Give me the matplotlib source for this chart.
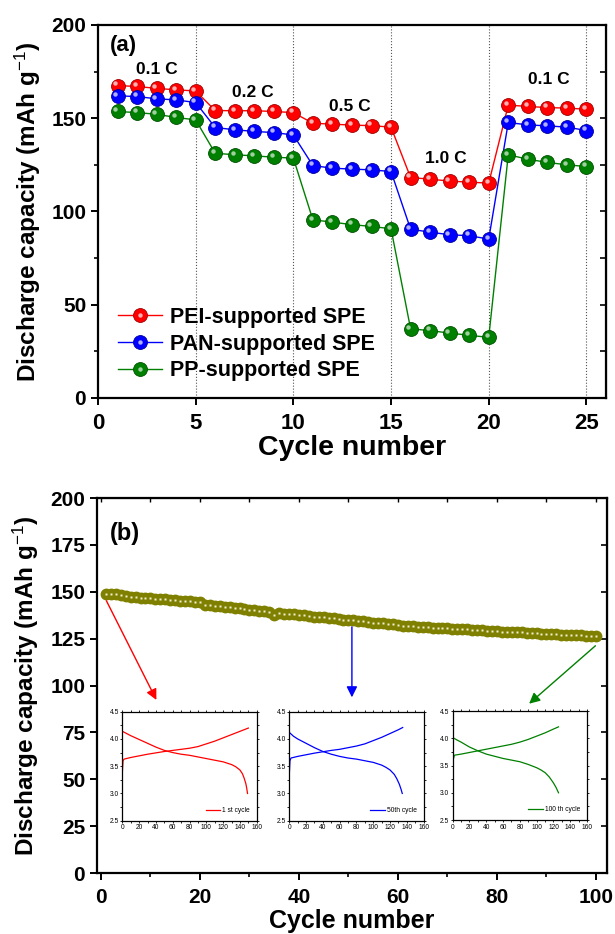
import numpy as np
import matplotlib
matplotlib.use("Agg")
import matplotlib.pyplot as plt
from matplotlib.transforms import ScaledTranslation
from matplotlib.ticker import MultipleLocator
from matplotlib.legend_handler import HandlerTuple

plt.rcParams['font.family'] = ['Liberation Sans', 'DejaVu Sans']
plt.rcParams['mathtext.fontset'] = 'custom'
plt.rcParams['mathtext.rm'] = 'Liberation Sans'
plt.rcParams['mathtext.default'] = 'rm'

# ---------------- data: panel (a) ----------------
cycles_a = list(range(1, 26))
pei = [167.5, 167.0, 166.0, 165.2, 164.6,
       154.1, 154.0, 154.0, 153.6, 153.0,
       147.3, 146.8, 146.3, 146.0, 145.2,
       118.2, 117.3, 116.3, 115.7, 115.2,
       157.0, 156.3, 155.7, 155.4, 154.8]
pan = [162.0, 161.6, 160.4, 159.8, 158.4,
       145.0, 143.8, 142.9, 142.3, 141.0,
       124.6, 123.2, 122.7, 122.3, 121.4,
       90.5, 88.9, 87.5, 87.0, 85.2,
       147.7, 146.4, 145.9, 145.2, 143.4]
pp = [153.6, 153.0, 152.1, 150.4, 149.1,
      131.2, 130.4, 129.8, 129.1, 128.6,
      95.5, 94.3, 92.9, 92.0, 90.7,
      37.1, 36.1, 34.8, 33.6, 32.5,
      130.4, 128.0, 126.3, 125.0, 124.1]
series_names = ['PEI-supported SPE', 'PAN-supported SPE', 'PP-supported SPE']
rate_boundaries = [5, 10, 15, 20, 25]
rate_labels = ['0.1 C', '0.2 C', '0.5 C', '1.0 C', '0.1 C']
rate_label_pos = [(3.0, 176), (7.9, 164), (12.9, 156.5), (17.8, 128.5), (23.1, 170.5)]

# ---------------- data: panel (b) ----------------
cycles_b = list(range(1, 101))
cap_b = [148.8, 148.8, 148.6, 148.3, 147.8, 147.4, 147.1, 146.9, 146.7, 146.5,
         146.3, 146.1, 145.9, 145.7, 145.5, 145.3, 145.1, 144.9, 144.7, 144.3,
         143.2, 142.8, 142.5, 142.2, 142.0, 141.7, 141.4, 141.1, 140.8, 140.5,
         140.2, 139.9, 139.6, 139.3, 137.6, 138.6, 138.4, 138.2, 138.0, 137.7,
         137.4, 137.1, 136.8, 136.6, 136.3, 136.0, 135.8, 135.5, 135.2, 135.0,
         134.7, 134.4, 134.2, 133.9, 133.6, 133.4, 133.1, 132.8, 132.6, 132.3,
         132.0, 131.8, 131.6, 131.4, 131.2, 131.1, 130.9, 130.8, 130.6, 130.5,
         130.3, 130.2, 130.0, 129.9, 129.7, 129.6, 129.4, 129.3, 129.1, 129.0,
         128.8, 128.7, 128.5, 128.4, 128.3, 128.1, 128.0, 127.9, 127.7, 127.6,
         127.5, 127.3, 127.2, 127.1, 127.0, 126.8, 126.7, 126.6, 126.5, 126.3]

# inset voltage profiles (capacity, voltage)
ch1_x = [0, 0.8, 2, 10, 20, 30, 40, 50, 60, 70, 80, 90, 100, 110, 120, 130, 140, 150]
ch1_y = [3.40, 3.60, 3.63, 3.66, 3.69, 3.72, 3.745, 3.77, 3.79, 3.81, 3.83, 3.86, 3.91, 3.96, 4.02, 4.08, 4.14, 4.20]
dc1_x = [0, 5, 10, 20, 30, 40, 50, 60, 70, 80, 90, 100, 110, 120, 130, 135, 140, 143, 145, 147, 148, 149]
dc1_y = [4.14, 4.10, 4.06, 3.99, 3.92, 3.85, 3.79, 3.75, 3.72, 3.70, 3.67, 3.64, 3.61, 3.58, 3.53, 3.49, 3.43, 3.36, 3.28, 3.18, 3.10, 3.00]
ch2_x = [0, 0.8, 2, 10, 20, 30, 40, 50, 60, 70, 80, 90, 100, 110, 120, 130, 135]
ch2_y = [3.34, 3.60, 3.65, 3.68, 3.71, 3.74, 3.765, 3.79, 3.81, 3.84, 3.87, 3.91, 3.97, 4.03, 4.10, 4.17, 4.21]
dc2_x = [0, 5, 10, 20, 30, 40, 50, 60, 70, 80, 90, 100, 110, 115, 120, 125, 128, 131, 133, 134.5]
dc2_y = [4.12, 4.05, 4.00, 3.92, 3.84, 3.77, 3.72, 3.68, 3.65, 3.63, 3.60, 3.57, 3.52, 3.48, 3.43, 3.35, 3.27, 3.17, 3.08, 3.00]
ch3_x = [0, 0.8, 2, 10, 20, 30, 40, 50, 60, 70, 80, 90, 100, 110, 120, 126]
ch3_y = [3.36, 3.62, 3.69, 3.71, 3.74, 3.77, 3.80, 3.83, 3.86, 3.89, 3.93, 3.98, 4.04, 4.10, 4.17, 4.21]
dc3_x = [0, 0.5, 5, 10, 20, 30, 40, 50, 60, 70, 80, 90, 100, 105, 110, 115, 120, 123, 126]
dc3_y = [4.08, 4.01, 3.97, 3.93, 3.84, 3.77, 3.71, 3.67, 3.63, 3.60, 3.57, 3.52, 3.46, 3.42, 3.37, 3.29, 3.18, 3.10, 3.00]
inset_labels = ['1 st cycle', '50th cycle', '100 th cycle']

# arrows (panel b data coords): start, tip
arrow_starts = [(1.1, 145.2), (50.7, 131.3), (99.9, 121.2)]
arrow_tips = [(11.2, 92.3), (50.7, 93.7), (86.5, 90.3)]

# ---------------- figure ----------------
fig = plt.figure(figsize=(6.15, 9.34), dpi=100)
ax1 = fig.add_axes([0.1593, 0.5739, 0.826, 0.3994])
ax2 = fig.add_axes([0.1577, 0.0653, 0.829, 0.4015])

for ax in (ax1, ax2):
    for s in ax.spines.values():
        s.set_linewidth(1.6)

# ---- panel (a)
colors = ['#ff0000', '#0000ff', '#008000']
edge = ['#a00000', '#0000a0', '#005000']
hl = ['#ffb0b0', '#b0b0ff', '#a0d0a0']
offset = ScaledTranslation(-1.6 / 72, 1.6 / 72, fig.dpi_scale_trans)
handles = []
for data, c, ec, h, name in zip([pei, pan, pp], colors, edge, hl, series_names):
    ln, = ax1.plot(cycles_a, data, '-', color=c, lw=1.0, marker='o', ms=10,
                   mfc=c, mec=ec, mew=0.6, zorder=3)
    hi, = ax1.plot(cycles_a, data, linestyle='none', marker='o', ms=3.2,
                   mfc=h, mec='none', zorder=4,
                   transform=ax1.transData + offset)
    hi2, = ax1.plot([], [], linestyle='none', marker='o', ms=3.2, mfc=h, mec='none')
    handles.append((ln, hi2))

for xb in rate_boundaries:
    ax1.axvline(xb, color='#555555', lw=0.8, ls=':', zorder=1)

ax1.set_xlim(0, 26)
ax1.set_ylim(0, 200)
ax1.xaxis.set_major_locator(MultipleLocator(5))
ax1.yaxis.set_major_locator(MultipleLocator(50))
ax1.yaxis.set_minor_locator(MultipleLocator(25))
ax1.tick_params(axis='both', which='major', direction='out', length=5, width=1.4,
                labelsize=15)
ax1.tick_params(axis='both', which='minor', direction='out', length=3, width=1.2)
ax1.tick_params(axis='x', labelsize=16, pad=6)
for t in ax1.get_xticklabels() + ax1.get_yticklabels():
    t.set_fontweight('bold')
sy = ax1.secondary_yaxis('right')
sy.yaxis.set_major_locator(MultipleLocator(25))
sy.tick_params(direction='in', length=4, width=1.2, labelright=False)

ax1.set_xlabel('Cycle number', fontsize=20.5, fontweight='bold')
ax1.set_ylabel('Discharge capacity (mAh g$^{-1}$)', fontsize=17.5, fontweight='bold')
ax1.xaxis.set_label_coords(0.5, -0.1)
ax1.yaxis.set_label_coords(-0.108, 0.5)

ax1.text(0.6, 189, '(a)', fontsize=16, fontweight='bold', va='center', ha='left')
for lab, (xx, yy) in zip(rate_labels, rate_label_pos):
    ax1.text(xx, yy, lab, fontsize=12.5, fontweight='bold', ha='center', va='center')

leg = ax1.legend(handles, series_names, handler_map={tuple: HandlerTuple(ndivide=1)},
                 loc='lower left', bbox_to_anchor=(0.01, 0.004), frameon=False,
                 prop={'weight': 'bold', 'size': 15.5}, handlelength=2.05,
                 handletextpad=0.35, labelspacing=0.27, borderaxespad=0.3)

# ---- panel (b)
ax2.plot(cycles_b, cap_b, linestyle='none', marker='o', ms=7.5, mfc='#808000',
         mec='#808000', zorder=3)
ax2.plot(cycles_b, cap_b, linestyle='none', marker='s', ms=2.0, mfc='#f0f0d0',
         mec='none', zorder=4)
ax2.set_xlim(-0.8, 102.2)
ax2.set_ylim(0, 200)
ax2.xaxis.set_major_locator(MultipleLocator(20))
ax2.xaxis.set_minor_locator(MultipleLocator(10))
ax2.yaxis.set_major_locator(MultipleLocator(25))
ax2.tick_params(axis='both', which='major', direction='out', length=5, width=1.4,
                labelsize=15)
ax2.tick_params(axis='both', which='minor', direction='out', length=3, width=1.2)
ax2.tick_params(axis='x', pad=6)
for t in ax2.get_xticklabels() + ax2.get_yticklabels():
    t.set_fontweight('bold')
sx2 = ax2.secondary_xaxis('top')
sx2.xaxis.set_major_locator(MultipleLocator(10))
sx2.tick_params(direction='in', length=3, width=1.0, labeltop=False)
sy2 = ax2.secondary_yaxis('right')
sy2.yaxis.set_major_locator(MultipleLocator(25))
sy2.tick_params(direction='in', length=4, width=1.2, labelright=False)

ax2.set_xlabel('Cycle number', fontsize=18, fontweight='bold')
ax2.set_ylabel('Discharge capacity (mAh g$^{-1}$)', fontsize=17.5, fontweight='bold')
ax2.xaxis.set_label_coords(0.5, -0.097)
ax2.yaxis.set_label_coords(-0.11, 0.5)
ax2.text(1.8, 181, '(b)', fontsize=17, fontweight='bold', va='center', ha='left')

for (s, t), c in zip(zip(arrow_starts, arrow_tips), colors):
    ax2.annotate('', xy=t, xytext=s,
                 arrowprops=dict(arrowstyle='-|>', color=c, lw=1.0,
                                 mutation_scale=16, shrinkA=0, shrinkB=0))

# ---- insets
inset_rects = [[0.199, 0.1213, 0.2185, 0.1167],
               [0.4704, 0.1213, 0.2185, 0.1167],
               [0.7361, 0.1220, 0.2185, 0.1167]]
profiles = [(ch1_x, ch1_y, dc1_x, dc1_y), (ch2_x, ch2_y, dc2_x, dc2_y),
            (ch3_x, ch3_y, dc3_x, dc3_y)]
for rect, (cx, cy, dx, dy), c, lab in zip(inset_rects, profiles, colors, inset_labels):
    ia = fig.add_axes(rect)
    ia.plot(cx, cy, color=c, lw=0.9, label=lab)
    ia.plot(dx, dy, color=c, lw=0.9)
    ia.set_xlim(0, 160)
    ia.set_ylim(2.5, 4.5)
    ia.xaxis.set_major_locator(MultipleLocator(20))
    ia.xaxis.set_minor_locator(MultipleLocator(10))
    ia.yaxis.set_minor_locator(MultipleLocator(0.25))
    ia.set_yticks([2.5, 3.0, 3.5, 4.0, 4.5])
    ia.set_yticklabels(['2.5', '3.0', '3.5', '4.0', '4.5'])
    ia.tick_params(which='both', direction='out', length=1.5, width=0.6,
                   labelsize=4.8, pad=1)
    ia.tick_params(which='both', top=True, right=True)
    for s in ia.spines.values():
        s.set_linewidth(0.9)
    ia.legend(loc='lower right', frameon=False, fontsize=4.8, handlelength=2.2,
              handletextpad=0.3, borderaxespad=0.6)

fig.savefig('out.png', dpi=100)
